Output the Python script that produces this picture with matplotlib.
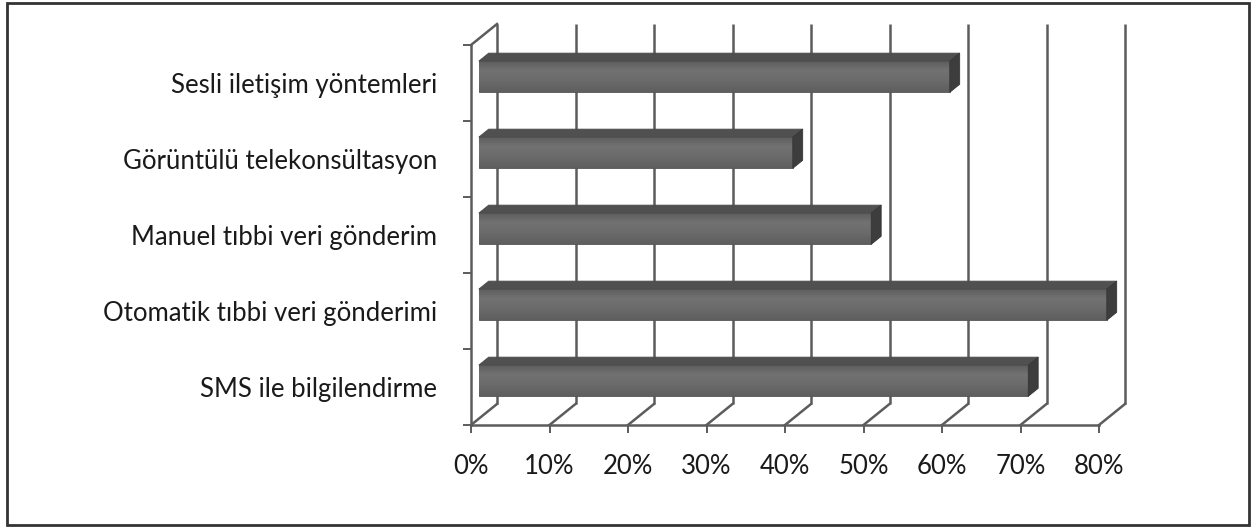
import numpy as np
import matplotlib.pyplot as plt
from matplotlib.patches import Polygon, Rectangle
from matplotlib.colors import LinearSegmentedColormap

# data, bottom to top as drawn
categories = ["SMS ile bilgilendirme", "Otomatik tıbbi veri gönderimi",
              "Manuel tıbbi veri gönderim", "Görüntülü telekonsültasyon",
              "Sesli iletişim yöntemleri"]
values = [70, 80, 50, 40, 60]
ticks = [0, 10, 20, 30, 40, 50, 60, 70, 80]
tick_labels = [f"{t}%" for t in ticks]

W, H = 1253, 527
plt.rcParams['font.family'] = ['Lato', 'DejaVu Sans']

fig = plt.figure(figsize=(W / 100, H / 100), dpi=100)
ax = fig.add_axes([471 / W, (H - 425) / H, 628 / W, 380 / H])
ax.set_xlim(0, 80)
ax.set_ylim(0, len(categories))

# 3d depth offset (back wall relative to front), in data units
DX = 26 * 80 / 628
DY = 21 / 76
grid_c = '#5c5c5c'
grid_lw = 1.8

# back wall gridlines and floor diagonals
for t in ticks:
    ax.plot([t + DX, t + DX], [DY, len(categories) + DY], color=grid_c,
            lw=grid_lw, clip_on=False, zorder=1, solid_capstyle='butt')
    ax.plot([t, t + DX], [0, DY], color=grid_c, lw=grid_lw,
            clip_on=False, zorder=1)
# left wall top edge
ax.plot([0, DX], [len(categories), len(categories) + DY], color=grid_c,
        lw=grid_lw, clip_on=False, zorder=1)

# bars as boxes
f1, f2 = 0.30, 0.68
half = 0.205
cmap = LinearSegmentedColormap.from_list('face', ['#5c5c5c', '#727272', '#6a6a6a', '#5e5e5e'])
grad = np.linspace(0, 1, 64).reshape(-1, 1)
for i, v in enumerate(values):
    y0, y1 = i + 0.5 - half, i + 0.5 + half
    ax1, ay1 = f1 * DX, f1 * DY
    ax2, ay2 = f2 * DX, f2 * DY
    front = Rectangle((ax1, y0 + ay1), v, y1 - y0, facecolor='#666666',
                      edgecolor='#555555', lw=0.6, zorder=3, clip_on=False)
    ax.add_patch(front)
    im = ax.imshow(grad, cmap=cmap, aspect='auto', origin='upper',
                   extent=[ax1, v + ax1, y0 + ay1, y1 + ay1], zorder=3.5)
    im.set_clip_path(front)
    top = Polygon([(ax1, y1 + ay1), (v + ax1, y1 + ay1),
                   (v + ax2, y1 + ay2), (ax2, y1 + ay2)],
                  facecolor='#505050', edgecolor='#4a4a4a', lw=0.6,
                  zorder=4, clip_on=False)
    side = Polygon([(v + ax1, y1 + ay1), (v + ax1, y0 + ay1),
                    (v + ax2, y0 + ay2), (v + ax2, y1 + ay2)],
                   facecolor='#3d3d3d', edgecolor='#363636', lw=0.6,
                   zorder=4, clip_on=False)
    ax.add_patch(top)
    ax.add_patch(side)
ax.set_xlim(0, 80)
ax.set_ylim(0, len(categories))

# axes
for s in ['top', 'right']:
    ax.spines[s].set_visible(False)
for s in ['left', 'bottom']:
    ax.spines[s].set_color(grid_c)
    ax.spines[s].set_linewidth(grid_lw)
    ax.spines[s].set_zorder(2)

ax.set_xticks(ticks)
ax.set_xticklabels(tick_labels, fontsize=18.5, color='#1a1a1a')
ax.tick_params(axis='x', length=5.8, width=1.4, color=grid_c, pad=15)
ax.set_yticks(range(len(categories) + 1))
ax.set_yticklabels([])
ax.tick_params(axis='y', which='major', length=5.8, width=1.4, color=grid_c)
ax.set_yticks([i + 0.5 for i in range(len(categories))], minor=True)
ax.set_yticklabels(categories, minor=True, fontsize=18.5, color='#1a1a1a')
ax.tick_params(axis='y', which='minor', length=0, pad=24.5)
ax.set_facecolor('none')

# outer frame
fig.add_artist(Rectangle((7 / W, 2 / H), 1242 / W, 522 / H, transform=fig.transFigure,
                         fill=False, edgecolor='#333333', lw=2))

fig.savefig('out.png', dpi=100)
